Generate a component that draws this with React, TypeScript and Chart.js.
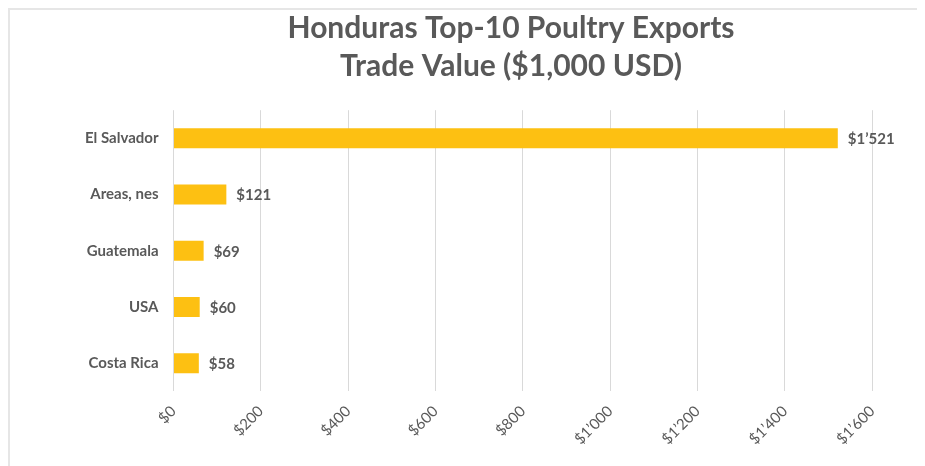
import React, { useEffect, useRef } from 'react';
import { Chart, registerables } from 'chart.js';

Chart.register(...registerables);

const categories = ['El Salvador', 'Areas, nes', 'Guatemala', 'USA', 'Costa Rica'];
const values = [1521, 121, 69, 60, 58];
const valueLabels = ['$1’521', '$121', '$69', '$60', '$58'];
const tickLabels = ['$0', '$200', '$400', '$600', '$800', '$1’000', '$1’200', '$1’400', '$1’600'];
const titleLines = ['Honduras Top-10 Poultry Exports', 'Trade Value ($1,000 USD)'];

const FONT = 'Lato, "Open Sans", sans-serif';
const TEXT = '#595959';

const dataLabelPlugin = {
  id: 'dataLabels',
  afterDatasetsDraw(chart: any) {
    const ctx = chart.ctx;
    const meta = chart.getDatasetMeta(0);
    ctx.save();
    ctx.font = `bold 15px ${FONT}`;
    ctx.fillStyle = TEXT;
    ctx.textAlign = 'left';
    ctx.textBaseline = 'middle';
    meta.data.forEach((bar: any, i: number) => {
      ctx.fillText(valueLabels[i], bar.x + 10, bar.y + 1);
    });
    ctx.restore();
  },
};

const titlePlugin = {
  id: 'customTitle',
  afterDraw(chart: any) {
    const ctx = chart.ctx;
    ctx.save();
    ctx.font = `bold 30px ${FONT}`;
    ctx.fillStyle = TEXT;
    ctx.textAlign = 'center';
    ctx.textBaseline = 'alphabetic';
    ctx.fillText(titleLines[0], 501, 27.5);
    ctx.fillText(titleLines[1], 501, 66);
    ctx.restore();
  },
};

export default function App() {
  const ref = useRef<HTMLCanvasElement>(null);
  useEffect(() => {
    if (!ref.current) return;
    const chart = new Chart(ref.current, {
      type: 'bar',
      data: {
        labels: categories,
        datasets: [
          {
            data: values,
            backgroundColor: '#FDC012',
            borderWidth: 0,
            categoryPercentage: 1,
            barPercentage: 0.356,
          },
        ],
      },
      options: {
        indexAxis: 'y',
        responsive: false,
        animation: false,
        devicePixelRatio: 1,
        layout: { padding: { top: 100.2, right: 44.7, bottom: 0, left: 0 } },
        plugins: {
          legend: { display: false },
          title: { display: false },
          tooltip: { enabled: false },
        },
        scales: {
          x: {
            type: 'linear',
            min: 0,
            max: 1600,
            ticks: {
              stepSize: 200,
              callback: (_v: any, i: number) => tickLabels[i],
              minRotation: 45,
              maxRotation: 45,
              color: TEXT,
              font: { family: FONT, size: 15 },
              padding: 11,
            },
            grid: { color: '#D9D9D9', drawTicks: false, lineWidth: 1 },
            border: { display: false },
            afterFit: (s: any) => {
              s.height = 78.6;
            },
          },
          y: {
            ticks: {
              color: TEXT,
              font: { family: FONT, size: 15, weight: 'bold' },
              padding: 15,
            },
            grid: { display: false, drawTicks: false },
            border: { display: false },
            afterFit: (s: any) => {
              s.width = 163.5;
            },
          },
        },
      },
      plugins: [dataLabelPlugin, titlePlugin],
    } as any);
    return () => chart.destroy();
  }, []);

  return (
    <div style={{ width: 907, height: 460, border: '2px solid #E6E6E6', background: '#fff' }}>
      <canvas ref={ref} width={907} height={460} style={{ display: 'block', width: 907, height: 460 }} />
    </div>
  );
}
